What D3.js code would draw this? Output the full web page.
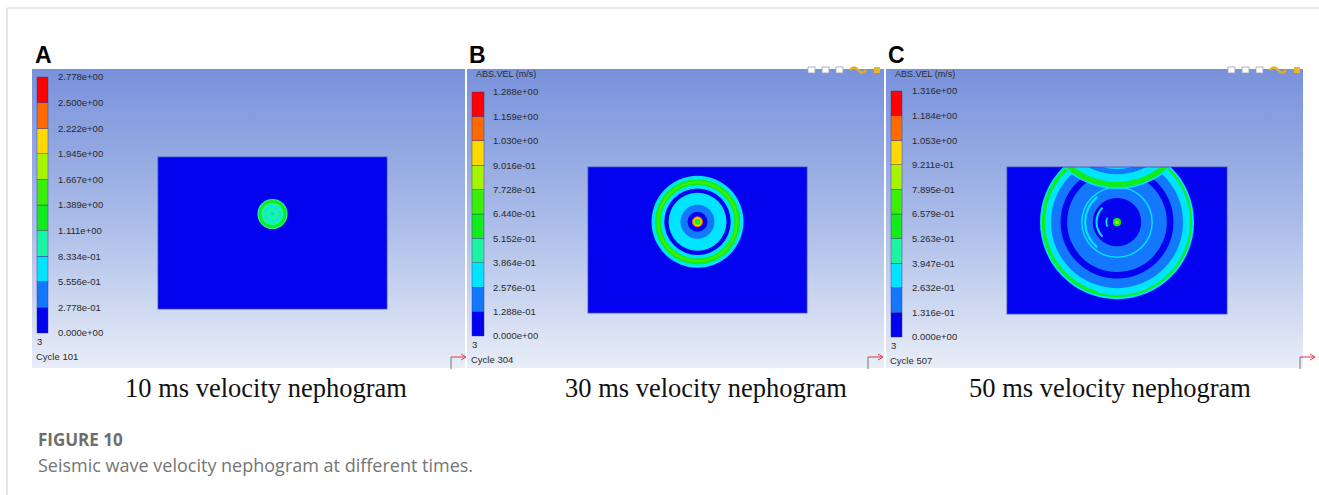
<!DOCTYPE html>
<html>
<head>
<meta charset="utf-8">
<script src="https://cdn.jsdelivr.net/npm/d3@7"></script>
<style>
  body { margin: 0; background: #fff; }
  svg { display: block; }
</style>
</head>
<body>
<svg id="fig" width="1319" height="495"></svg>
<script>
// ----------------------
// 1. data
// ----------------------
const modelSize = [30, 20];          // model width / height (m)
const sourcePos = [15, 12.5];        // blast source (m, y up)

const panelLetters = ["A", "B", "C"];
const panelCaptions = ["10 ms velocity nephogram", "30 ms velocity nephogram", "50 ms velocity nephogram"];
const cycleLabels = ["Cycle 101", "Cycle 304", "Cycle 507"];

const labelsA = ["0.000e+00", "2.778e-01", "5.556e-01", "8.334e-01", "1.111e+00", "1.389e+00",
                 "1.667e+00", "1.945e+00", "2.222e+00", "2.500e+00", "2.778e+00"];
const labelsB = ["0.000e+00", "1.288e-01", "2.576e-01", "3.864e-01", "5.152e-01", "6.440e-01",
                 "7.728e-01", "9.016e-01", "1.030e+00", "1.159e+00", "1.288e+00"];
const labelsC = ["0.000e+00", "1.316e-01", "2.632e-01", "3.947e-01", "5.263e-01", "6.579e-01",
                 "7.895e-01", "9.211e-01", "1.053e+00", "1.184e+00", "1.316e+00"];

// wave front bands: [radius (m), colour level], outer to inner
const ringsA = [[1.97, 3], [1.83, 4], [1.44, 3], [1.05, 2], [0.85, 3], [0.3, 2], [0.12, 4]];
const ringsB = [[6.30, 2], [5.85, 4], [5.55, 5], [5.25, 4], [5.05, 2], [4.55, 0], [3.97, 2],
                [2.33, 1], [1.37, 0], [0.75, 8], [0.58, 7], [0.42, 4], [0.15, 3]];
const ringsC = [[10.5, 2], [10.25, 4], [9.95, 2], [9.0, 1], [7.7, 0], [6.8, 1], [4.9, 2],
                [4.7, 1], [3.3, 0], [0.55, 4], [0.25, 6]];
// partial arcs in C: [radius, width, start deg, end deg, level]
const arcsC = [[10.0, 0.4, 195, 335, 4], [4.35, 0.3, 218, 322, 2], [2.8, 0.28, 225, 315, 2], [1.45, 0.22, 245, 295, 2]];
// reflected wave from the free surface in C (mirror source)
const reflectC = [[10.5, 2], [10.3, 4], [9.55, 2], [8.5, 1], [7.8, 2]];

// ----------------------
// 2. colour map + layout
// ----------------------
const palette = ["#0303ef", "#1478ff", "#00e4ff", "#1cf4a4", "#12ec1c",
                 "#3cef08", "#a6f400", "#ffd800", "#ff6a00", "#ff0000"];

const panels = [
  { x0: 32,  x1: 465,  rect: [158, 157, 387, 309],  bar: [37, 77, 48, 333],  labelX: 58,  title: null,       rings: ringsA, labels: labelsA, capX: 266 },
  { x0: 467, x1: 884,  rect: [588, 167, 807, 313],  bar: [472, 92, 484, 336], labelX: 493, title: [476, 77], rings: ringsB, labels: labelsB, capX: 706 },
  { x0: 886, x1: 1303, rect: [1007, 167, 1227, 314], bar: [891, 91, 902, 337], labelX: 912, title: [895, 77], rings: ringsC, labels: labelsC, capX: 1110 }
];
const panelTop = 69, panelBottom = 368;

const svg = d3.select("#fig");
const defs = svg.append("defs");

const grad = defs.append("linearGradient")
  .attr("id", "bg").attr("x1", 0).attr("y1", 0).attr("x2", 0).attr("y2", 1);
grad.append("stop").attr("offset", "0%").attr("stop-color", "#7891db");
grad.append("stop").attr("offset", "50%").attr("stop-color", "#a9bbe8");
grad.append("stop").attr("offset", "100%").attr("stop-color", "#e8edf7");

// page frame lines
svg.append("line").attr("x1", 7).attr("x2", 1319).attr("y1", 8).attr("y2", 8)
  .attr("stroke", "#d4d4d4").attr("stroke-width", 1.2);
svg.append("line").attr("x1", 7).attr("x2", 7).attr("y1", 8).attr("y2", 495)
  .attr("stroke", "#d4d4d4").attr("stroke-width", 1.2);

const color = i => palette[i];
const arcGen = d3.arc();

panels.forEach((p, k) => {
  const g = svg.append("g");

  // background window
  g.append("rect")
    .attr("x", p.x0).attr("y", panelTop)
    .attr("width", p.x1 - p.x0).attr("height", panelBottom - panelTop)
    .attr("fill", "url(#bg)");

  // panel letter
  svg.append("text")
    .attr("x", p.x0 + 2 + (k === 0 ? 1 : 0)).attr("y", 63)
    .attr("font-family", "Liberation Sans, Arial, sans-serif")
    .attr("font-weight", "bold").attr("font-size", 23)
    .text(panelLetters[k]);

  // ---- model domain
  const [rx0, ry0, rx1, ry1] = p.rect;
  const x = d3.scaleLinear().domain([0, modelSize[0]]).range([rx0, rx1]);
  const y = d3.scaleLinear().domain([0, modelSize[1]]).range([ry1, ry0]);
  const rpx = r => x(r) - x(0);
  const cx = x(sourcePos[0]), cy = y(sourcePos[1]);

  defs.append("clipPath").attr("id", "clip" + k)
    .append("rect").attr("x", rx0).attr("y", ry0).attr("width", rx1 - rx0).attr("height", ry1 - ry0);

  const field = g.append("g").attr("clip-path", `url(#clip${k})`);
  field.append("rect")
    .attr("x", rx0).attr("y", ry0).attr("width", rx1 - rx0).attr("height", ry1 - ry0)
    .attr("fill", color(0));

  field.selectAll("circle.ring")
    .data(p.rings)
    .join("circle")
    .attr("class", "ring")
    .attr("cx", cx).attr("cy", cy)
    .attr("r", d => rpx(d[0]))
    .attr("fill", d => color(d[1]));

  if (k === 2) {
    field.selectAll("path.arc")
      .data(arcsC)
      .join("path")
      .attr("class", "arc")
      .attr("transform", `translate(${cx},${cy})`)
      .attr("d", d => arcGen({
        innerRadius: rpx(d[0] - d[1] / 2), outerRadius: rpx(d[0] + d[1] / 2),
        startAngle: d[2] * Math.PI / 180, endAngle: d[3] * Math.PI / 180
      }))
      .attr("fill", d => color(d[4]));

    // reflected front, only inside the direct front
    defs.append("clipPath").attr("id", "front2")
      .append("circle").attr("cx", cx).attr("cy", cy).attr("r", rpx(ringsC[1][0]));
    const mirrorY = y(2 * modelSize[1] - sourcePos[1]);
    field.append("g").attr("clip-path", "url(#front2)")
      .selectAll("circle.refl")
      .data(reflectC)
      .join("circle")
      .attr("class", "refl")
      .attr("cx", cx).attr("cy", mirrorY)
      .attr("r", d => rpx(d[0]))
      .attr("fill", d => color(d[1]));
  }

  g.append("rect")
    .attr("x", rx0).attr("y", ry0).attr("width", rx1 - rx0).attr("height", ry1 - ry0)
    .attr("fill", "none").attr("stroke", "#3b4cc4").attr("stroke-width", 0.8);

  // ---- colour legend
  const [bx0, bTop, bx1, bBot] = p.bar;
  const ly = d3.scaleLinear().domain([0, 10]).range([bBot, bTop]);
  g.selectAll("rect.seg")
    .data(d3.range(10))
    .join("rect")
    .attr("class", "seg")
    .attr("x", bx0).attr("width", bx1 - bx0)
    .attr("y", i => ly(i + 1)).attr("height", i => ly(i) - ly(i + 1))
    .attr("fill", i => color(i))
    .attr("stroke", "#30307a").attr("stroke-width", 0.4);

  g.selectAll("text.lab")
    .data(p.labels)
    .join("text")
    .attr("class", "lab")
    .attr("x", p.labelX).attr("y", (d, i) => ly(i))
    .attr("dy", "0.35em")
    .attr("font-family", "Liberation Sans, Arial, sans-serif")
    .attr("font-size", 9.5).attr("fill", "#2a2a2a")
    .text(d => d);

  if (p.title) {
    g.append("text")
      .attr("x", p.title[0]).attr("y", p.title[1])
      .attr("font-family", "Liberation Sans, Arial, sans-serif")
      .attr("font-size", 9).attr("fill", "#2a2a2a")
      .text("ABS.VEL (m/s)");
  }

  g.append("text")
    .attr("x", bx0).attr("y", bBot + 12)
    .attr("font-family", "Liberation Sans, Arial, sans-serif")
    .attr("font-size", 9.5).attr("fill", "#2a2a2a")
    .text("3");
  g.append("text")
    .attr("x", bx0 - 1).attr("y", bBot + 27)
    .attr("font-family", "Liberation Sans, Arial, sans-serif")
    .attr("font-size", 9.5).attr("fill", "#2a2a2a")
    .text(cycleLabels[k]);

  // caption under each window
  svg.append("text")
    .attr("x", p.capX).attr("y", 397)
    .attr("text-anchor", "middle")
    .attr("font-family", "Liberation Serif, Times New Roman, serif")
    .attr("font-size", 26.5).attr("fill", "#111")
    .text(panelCaptions[k]);
});

// small axis triads (bottom-left glyphs of the solver windows)
[[451, 369], [868, 369], [1300, 369]].forEach(([ax, ay]) => {
  svg.append("path")
    .attr("d", `M${ax},${ay}V${ay - 12}`)
    .attr("stroke", "#777").attr("stroke-width", 1).attr("fill", "none");
  svg.append("path")
    .attr("d", `M${ax},${ay - 12}H${ax + 14}`)
    .attr("stroke", "#d8384a").attr("stroke-width", 1).attr("fill", "none");
  svg.append("path")
    .attr("d", `M${ax + 10},${ay - 15}L${ax + 15},${ay - 12}L${ax + 10},${ay - 9}`)
    .attr("stroke", "#d8384a").attr("stroke-width", 1).attr("fill", "none");
});

// toolbar icons peeking at the top-right of B and C
[808, 1228].forEach(ix => {
  [0, 14, 28].forEach(dx => {
    svg.append("rect").attr("x", ix + dx).attr("y", 67).attr("width", 7).attr("height", 6)
      .attr("fill", "#fff").attr("stroke", "#9aa0b0").attr("stroke-width", 0.8);
  });
  svg.append("path")
    .attr("d", `M${ix + 42},${70}q4,-5 8,0q4,5 8,0`)
    .attr("stroke", "#e0b21a").attr("stroke-width", 2.5).attr("fill", "none");
  svg.append("rect").attr("x", ix + 66).attr("y", 67).attr("width", 6).attr("height", 6)
    .attr("fill", "#e9b824");
});

// figure caption
svg.append("text")
  .attr("x", 38).attr("y", 446)
  .attr("font-family", "Open Sans, sans-serif")
  .attr("font-weight", "bold").attr("font-size", 17).attr("fill", "#6e6e6e")
  .text("FIGURE 10");
svg.append("text")
  .attr("x", 38).attr("y", 472)
  .attr("font-family", "Open Sans, sans-serif")
  .attr("font-size", 18).attr("fill", "#757575")
  .text("Seismic wave velocity nephogram at different times.");
</script>
</body>
</html>
